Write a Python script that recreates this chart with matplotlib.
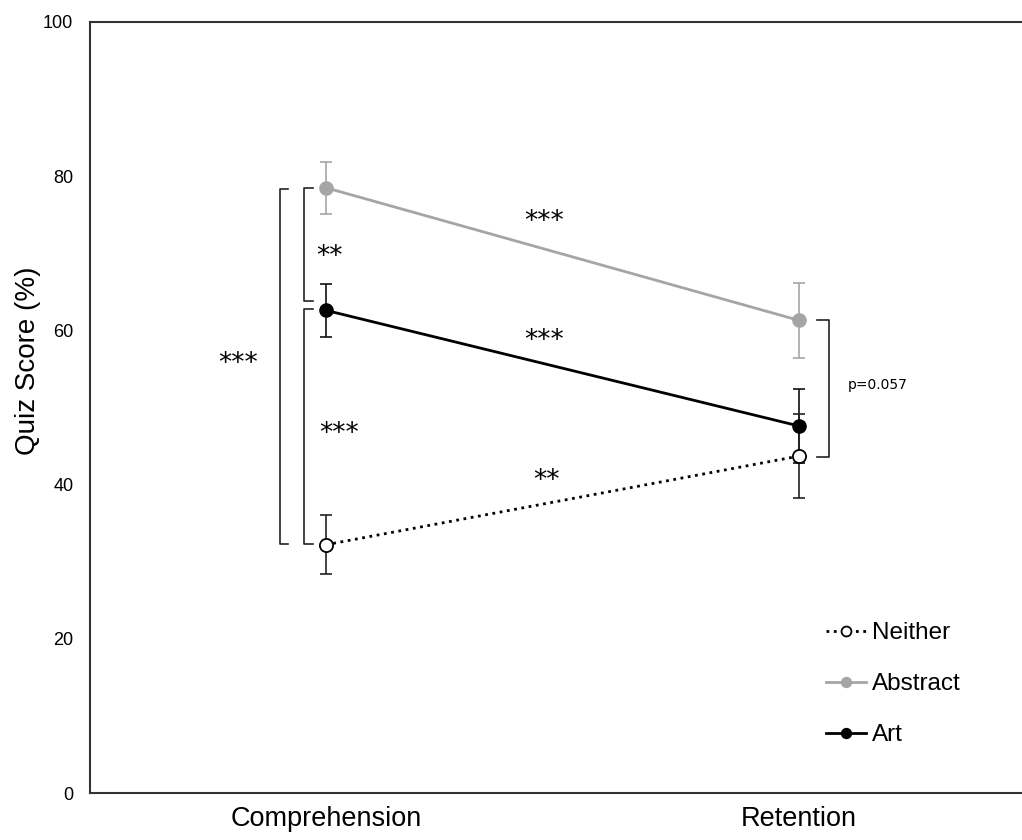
import numpy as np
import matplotlib.pyplot as plt

# Quiz scores (%) per condition, with error bars
conditions = ['Comprehension', 'Retention']
neither = [32.2, 43.7]
neither_err = [3.8, 5.5]
abstract = [78.5, 61.3]
abstract_err = [3.4, 4.9]
art = [62.6, 47.6]
art_err = [3.4, 4.8]

gray = '#a5a5a5'
x = np.arange(len(conditions))

fig = plt.figure(figsize=(10.22, 8.4), dpi=100)
ax = fig.add_axes([90 / 1022, 1 - 793 / 840, 1 - 90 / 1022, (793 - 22) / 840])

# error bars first, then lines/markers on top
ax.errorbar(x, abstract, yerr=abstract_err, fmt='none', ecolor=gray, elinewidth=1.2,
            capsize=4, capthick=1.2, zorder=2)
ax.errorbar(x, art, yerr=art_err, fmt='none', ecolor='#111111', elinewidth=1.2,
            capsize=4, capthick=1.2, zorder=2)
ax.errorbar(x, neither, yerr=neither_err, fmt='none', ecolor='#222222', elinewidth=1.2,
            capsize=4, capthick=1.2, zorder=2)

ax.plot(x, neither, linestyle=':', color='black', linewidth=2, marker='o',
        markersize=9.5, markerfacecolor='white', markeredgecolor='black',
        markeredgewidth=1.3, label='Neither', zorder=4)
ax.plot(x, abstract, linestyle='-', color=gray, linewidth=2, marker='o',
        markersize=9.5, markeredgecolor=gray, label='Abstract', zorder=3)
ax.plot(x, art, linestyle='-', color='black', linewidth=2, marker='o',
        markersize=9.5, label='Art', zorder=3)

ax.set_xlim(-0.499, (1022 - 326) / 473)
ax.set_ylim(0, 100)
ax.set_yticks([0, 20, 40, 60, 80, 100])
ax.set_xticks(x)
ax.set_xticklabels(conditions, fontsize=19.5, fontfamily='Liberation Sans')
ax.tick_params(axis='x', length=0, pad=9)
ax.tick_params(axis='y', length=0, pad=12, labelsize=13)
for lab in ax.get_yticklabels():
    lab.set_fontfamily('Liberation Sans')

ax.set_ylabel('Quiz Score (%)', fontsize=20, fontfamily='Liberation Sans')
ax.yaxis.set_label_coords(-0.053, 0.56)

ax.spines['right'].set_visible(False)
for s in ['left', 'bottom', 'top']:
    ax.spines[s].set_linewidth(1.5)
    ax.spines[s].set_color('#333333')


def bracket(xv, xa, y0, y1):
    ax.plot([xa, xv, xv, xa], [y0, y0, y1, y1], color='#222222', linewidth=1.2,
            clip_on=False, zorder=1)


# significance brackets
bracket(-0.0973, -0.080, abstract[0] - 0.2, neither[0] + 0.1)
bracket(-0.0465, -0.0275, abstract[0], art[0] + 1.2)
bracket(-0.0465, -0.0275, art[0] + 0.2, neither[0] + 0.1)
bracket(1.0634, 1.038, abstract[1], neither[1] - 0.1)

star = dict(fontsize=19, fontfamily='DejaVu Sans', ha='center', va='center')
ax.text(0.46, 74.0, '***', **star)
ax.text(0.46, 58.6, '***', **star)
ax.text(0.465, 40.5, '**', **star)
ax.text(-0.186, 55.6, '***', **star)
ax.text(0.008, 69.5, '**', **star)
ax.text(0.0285, 46.5, '***', **star)
ax.text(1.1036, 52.9, 'p=0.057', fontsize=10, fontfamily='DejaVu Sans',
        ha='left', va='center')

leg = ax.legend(loc='upper left', bbox_to_anchor=(826 / 1022, 1 - 622 / 840),
                bbox_transform=fig.transFigure, frameon=False,
                handlelength=1.65, handletextpad=0.25, labelspacing=1.2,
                borderpad=0, borderaxespad=0, markerscale=0.75,
                prop={'family': 'Liberation Sans', 'size': 17.5})

fig.savefig('out.png', dpi=100)
